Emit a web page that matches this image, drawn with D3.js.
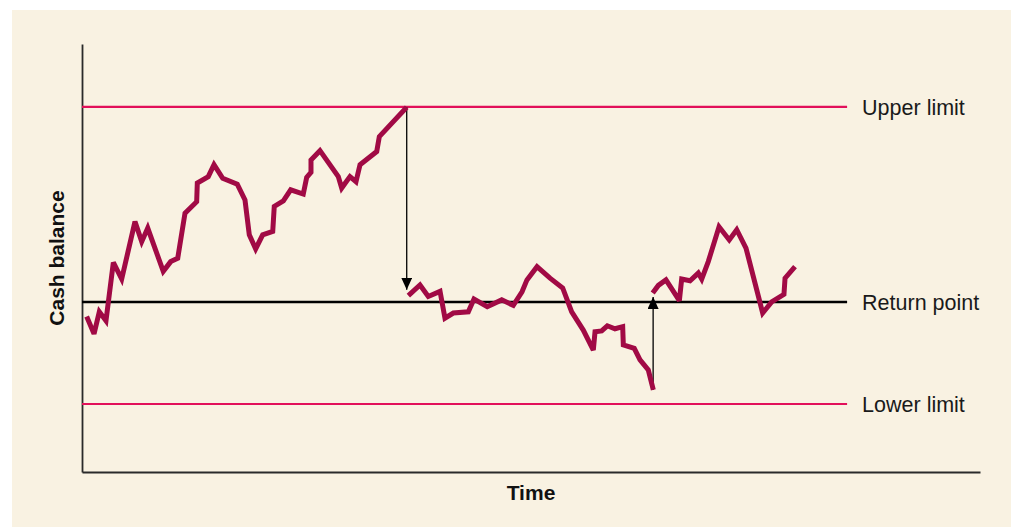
<!DOCTYPE html>
<html>
<head>
<meta charset="utf-8">
<script src="https://cdn.jsdelivr.net/npm/d3@7"></script>
<style>
  html, body { margin: 0; padding: 0; background: #ffffff; }
  svg { display: block; }
</style>
</head>
<body>
<svg id="chart" width="1011" height="527"></svg>
<script>
// ---- data (time units 0-100, cash units 0-100) ----
const seg1Time = [0.52,1.34,1.93,2.67,3.49,4.42,5.90,6.65,7.32,9.05,9.88,10.66,11.47,12.77,12.84,14.06,14.70,15.67,17.29,18.15,18.63,19.34,20.12,21.24,21.41,22.42,23.24,24.64,25.02,25.50,25.50,26.50,28.54,28.92,29.84,30.51,30.96,32.82,33.11,36.16];
const seg1Cash = [36.1,32.0,37.2,35.1,48.8,44.9,58.4,53.7,56.9,46.7,49.0,49.8,60.4,63.1,67.5,69.0,71.8,68.6,67.2,63.5,55.3,52.0,55.3,56.1,62.0,63.3,65.9,64.9,68.8,70.0,72.9,75.1,69.0,66.3,69.0,67.8,71.8,74.9,78.4,85.3];
const seg2Time = [36.34,37.64,38.56,39.87,40.42,41.35,43.02,43.65,45.13,46.74,48.03,49.00,49.55,50.67,52.12,53.53,54.53,55.82,56.94,57.13,57.87,58.50,59.35,60.21,60.28,61.50,62.14,63.06,63.62];
const seg2Cash = [41.0,43.5,40.8,42.0,35.7,36.9,37.2,40.2,38.4,40.0,38.7,41.9,44.7,47.8,45.1,42.8,37.2,32.9,28.2,32.5,32.7,33.9,33.2,33.7,29.4,28.6,25.9,23.5,18.8];
const seg3Time = [63.55,64.18,65.03,66.52,66.78,67.71,68.63,69.01,69.74,70.94,72.08,72.91,73.94,75.80,76.80,78.17,78.29,79.40];
const seg3Cash = [41.6,43.4,44.7,39.8,44.9,44.5,46.3,44.9,49.0,57.2,54.1,56.5,52.2,36.9,39.5,41.3,45.1,47.8];

const limitNames = ["Upper limit", "Return point", "Lower limit"];
const limitValues = [85.4, 39.5, 15.5];
const limitEnd = 85.2;   // time where limit lines stop

const arrowTime = [36.16, 63.60];
const arrowFrom = [85.3, 18.8];
const arrowTo   = [42.4, 40.7];

const xLabel = "Time";
const yLabel = "Cash balance";

// ---- layout ----
const W = 1011, H = 527;
const mLeft = 82, mRight = 981, mTop = 44, mBottom = 472;

const svg = d3.select("#chart");
svg.append("rect").attr("x", 12).attr("y", 10).attr("width", W - 12).attr("height", H - 10)
  .attr("fill", "#f9f2e2");

const x = d3.scaleLinear().domain([0, 100]).range([mLeft, mRight - 1]);
const y = d3.scaleLinear().domain([-0.5, 100.2]).range([mBottom, mTop]);

const defs = svg.append("defs");
defs.append("marker").attr("id", "ah").attr("viewBox", "0 0 12 11")
  .attr("refX", 12).attr("refY", 5.5).attr("markerWidth", 12).attr("markerHeight", 11)
  .attr("markerUnits", "userSpaceOnUse").attr("orient", "auto")
  .append("path").attr("d", "M0,0 L12,5.5 L0,11 Z").attr("fill", "#000");

// axes (domain lines only)
const gx = svg.append("g").attr("transform", `translate(0,${mBottom})`)
  .call(d3.axisBottom(x).tickValues([]).tickSizeOuter(0));
const gy = svg.append("g").attr("transform", `translate(${mLeft},0)`)
  .call(d3.axisLeft(y).tickValues([]).tickSizeOuter(0));
[gx, gy].forEach(g => g.select(".domain").attr("stroke", "#2a2a2a").attr("stroke-width", 1.8));

// limit lines
const limitColors = ["#e2105a", "#000000", "#e2105a"];
const limitWidths = [2.2, 2.6, 2.2];
limitNames.forEach((name, i) => {
  svg.append("line")
    .attr("x1", x(0)).attr("x2", x(limitEnd))
    .attr("y1", y(limitValues[i])).attr("y2", y(limitValues[i]))
    .attr("stroke", limitColors[i]).attr("stroke-width", limitWidths[i]);
  svg.append("text")
    .attr("x", x(limitEnd) + 15).attr("y", y(limitValues[i]))
    .attr("dy", "0.36em")
    .attr("font-family", "'Liberation Sans', Arial, sans-serif")
    .attr("font-size", 21.5).attr("fill", "#1a1a1a")
    .text(name);
});

// arrows
arrowTime.forEach((t, i) => {
  svg.append("line")
    .attr("x1", x(t)).attr("x2", x(t))
    .attr("y1", y(arrowFrom[i])).attr("y2", y(arrowTo[i]))
    .attr("stroke", "#000").attr("stroke-width", 1.3)
    .attr("marker-end", "url(#ah)");
});

// cash path segments
const line = d3.line().x(d => x(d[0])).y(d => y(d[1]));
[[seg1Time, seg1Cash], [seg2Time, seg2Cash], [seg3Time, seg3Cash]].forEach(([ts, cs]) => {
  svg.append("path")
    .datum(ts.map((t, i) => [t, cs[i]]))
    .attr("d", line)
    .attr("fill", "none").attr("stroke", "#a10a45")
    .attr("stroke-width", 5).attr("stroke-linejoin", "miter").attr("stroke-miterlimit", 3);
});

// axis titles
svg.append("text")
  .attr("x", (x(0) + x(100)) / 2).attr("y", 500)
  .attr("text-anchor", "middle")
  .attr("font-family", "'Liberation Sans', Arial, sans-serif")
  .attr("font-weight", "bold").attr("font-size", 21).attr("fill", "#111")
  .text(xLabel);
svg.append("text")
  .attr("transform", `translate(64,${(y(100.2) + y(-0.5)) / 2}) rotate(-90)`)
  .attr("text-anchor", "middle")
  .attr("font-family", "'Liberation Sans', Arial, sans-serif")
  .attr("font-weight", "bold").attr("font-size", 21).attr("fill", "#111")
  .text(yLabel);
</script>
</body>
</html>
